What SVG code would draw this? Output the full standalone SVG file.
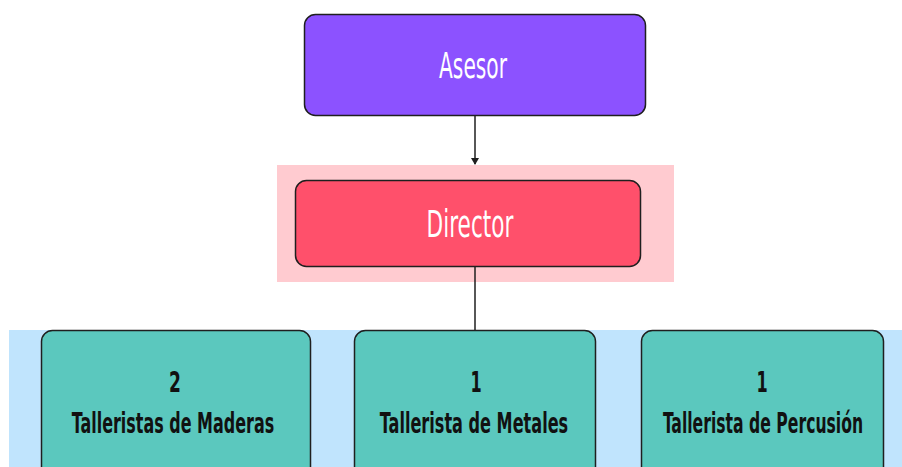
<svg xmlns="http://www.w3.org/2000/svg" width="902" height="467" viewBox="0 0 902 467">
<defs>
<style>
.box{stroke:#1f1f1f;stroke-width:1.5}
.lbl{font-family:"DejaVu Sans Condensed","DejaVu Sans",sans-serif;font-stretch:condensed;text-anchor:middle}
.w{fill:#ffffff;font-size:28px}
.k{fill:#111111;font-size:23px;font-weight:bold}
.conn{stroke:#1f1f1f;stroke-width:1.5;fill:none}
</style>
<marker id="ah" markerWidth="8" markerHeight="8" refX="6" refY="4" orient="auto" markerUnits="userSpaceOnUse">
<path d="M0,0 L7,4 L0,8 z" fill="#1f1f1f"/>
</marker>
</defs>
<rect width="902" height="467" fill="#ffffff"/>
<rect x="277" y="165" width="397" height="117" fill="#FFCBD0"/>
<rect x="9" y="330" width="893" height="137" fill="#C0E4FD"/>
<g id="connectors">
<line class="conn" x1="475" y1="116" x2="475" y2="164" marker-end="url(#ah)"/>
<line class="conn" x1="475" y1="266" x2="475" y2="330"/>
</g>
<g id="asesor">
<rect class="box" x="304.5" y="14.5" width="341" height="101" rx="11" fill="#8C52FF"/>
<text class="lbl w" transform="translate(473,78) scale(0.7,1.27)" x="0" y="0" textLength="97" lengthAdjust="spacingAndGlyphs">Asesor</text>
</g>
<g id="director">
<rect class="box" x="295.5" y="180.5" width="345" height="86" rx="11" fill="#FF506B"/>
<text class="lbl w" transform="translate(470,237) scale(0.7,1.3)" x="0" y="0" textLength="124" lengthAdjust="spacingAndGlyphs">Director</text>
</g>
<g id="maderas">
<rect class="box" x="41.5" y="330.5" width="269" height="150" rx="11" fill="#5BC8BE"/>
<text class="lbl k" transform="translate(175,392) scale(0.7,1.27)" x="0" y="0" textLength="17" lengthAdjust="spacingAndGlyphs">2</text>
<text class="lbl k" transform="translate(173,433) scale(0.7,1.27)" x="0" y="0" textLength="289" lengthAdjust="spacingAndGlyphs">Talleristas de Maderas</text>
</g>
<g id="metales">
<rect class="box" x="354.5" y="330.5" width="241" height="150" rx="11" fill="#5BC8BE"/>
<text class="lbl k" transform="translate(476,392) scale(0.7,1.27)" x="0" y="0" textLength="16" lengthAdjust="spacingAndGlyphs">1</text>
<text class="lbl k" transform="translate(474,433) scale(0.7,1.27)" x="0" y="0" textLength="269" lengthAdjust="spacingAndGlyphs">Tallerista de Metales</text>
</g>
<g id="percusion">
<rect class="box" x="641.5" y="330.5" width="242" height="150" rx="11" fill="#5BC8BE"/>
<text class="lbl k" transform="translate(762,392) scale(0.7,1.27)" x="0" y="0" textLength="16" lengthAdjust="spacingAndGlyphs">1</text>
<text class="lbl k" transform="translate(763,433) scale(0.7,1.27)" x="0" y="0" textLength="286" lengthAdjust="spacingAndGlyphs">Tallerista de Percusión</text>
</g>
</svg>
